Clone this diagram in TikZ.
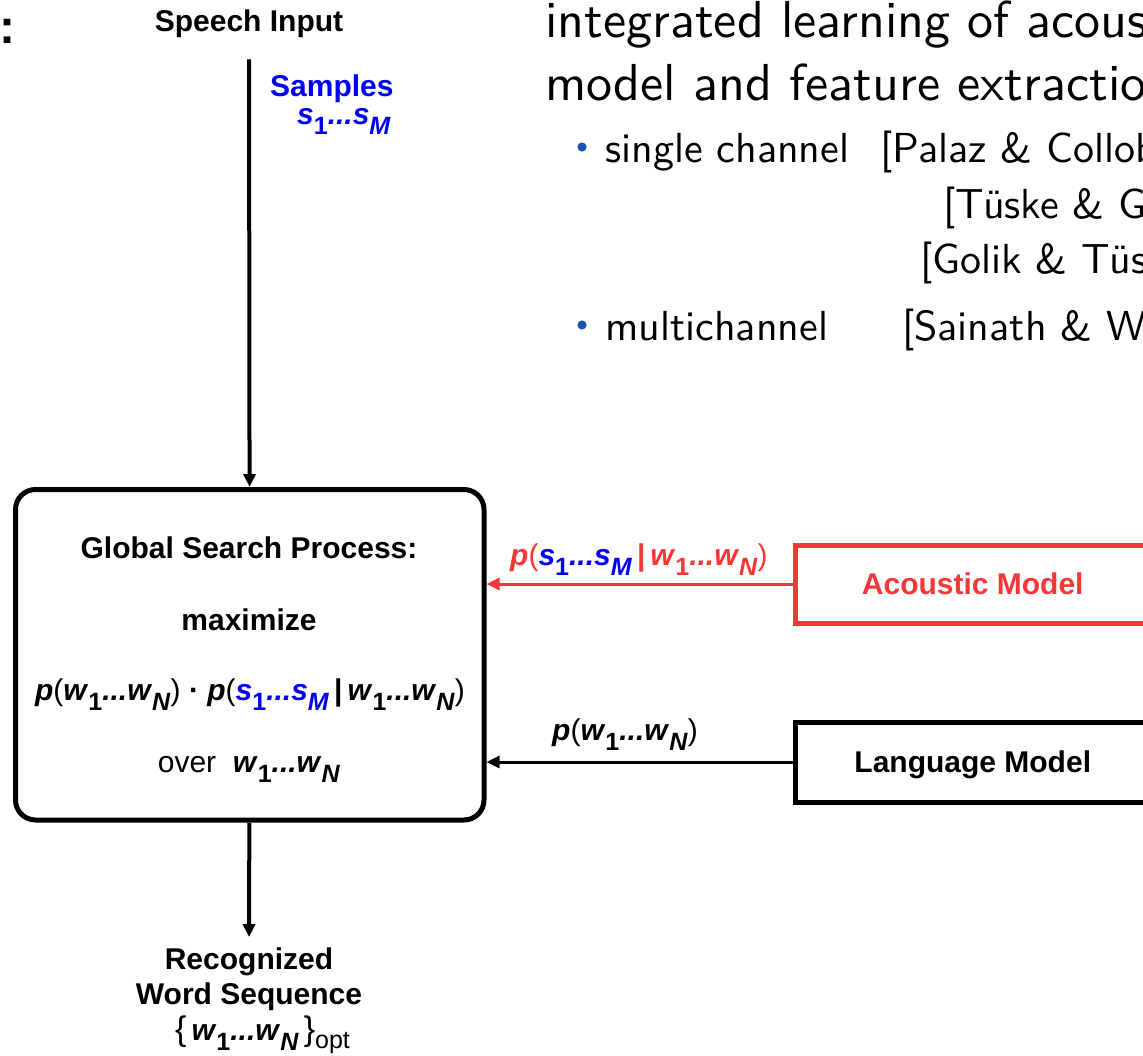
\documentclass[tikz,border=0pt]{standalone}
\usepackage{fontspec}
\setmainfont{Liberation Sans}
\newfontfamily\slidefont{lmsans10-regular.otf}
\usetikzlibrary{arrows.meta}

\definecolor{amred}{RGB}{245,55,55}
\definecolor{smpblue}{RGB}{0,0,245}
\definecolor{bulblue}{RGB}{25,85,170}

% lowered subscript and the symbol sequences
\newcommand\lsub[1]{\raisebox{-10pt}{\fontsize{25}{25}\selectfont #1}}
\newcommand\wseq{\textit{w}\lsub{1}\textit{...w}\lsub{\textit{N}}}
\newcommand\sseq{\textit{s}\lsub{1}\textit{...s}\lsub{\textit{M}}}
\newcommand\lpar{{\mdseries(}}
\newcommand\rpar{{\mdseries)}}

\tikzset{
  x=1pt, y=-1pt,
  lbl/.style={inner sep=0pt, anchor=base, font=\fontsize{30}{36}\selectfont\bfseries},
  lblw/.style={lbl, anchor=base west},
  slide/.style={inner sep=0pt, anchor=base west, font=\slidefont\fontsize{52}{62}\selectfont},
  slidesm/.style={inner sep=0pt, anchor=base west, font=\slidefont\fontsize{42}{50}\selectfont},
  arr/.style={-{Triangle[length=13pt,width=12pt]}},
  modelbox/.style={draw, line width=5pt, minimum width=354.5pt, inner sep=0pt,
    text depth=0pt, font=\fontsize{30}{36}\selectfont\bfseries},
}

\begin{document}
\begin{tikzpicture}
\useasboundingbox (0,0) rectangle (1143,1055);
\clip (0,0) rectangle (1143,1055);

% slide text on the right
\node[inner sep=0pt, anchor=base, font=\fontsize{48}{58}\selectfont\bfseries] (colon) at (7.5,43.5) {:};
\node[slide] (t1) at (545,37) {integrated learning of acoustic};
\node[slide] (t2) at (545,100) {model and feature extraction};
\fill[bulblue] (582,147) circle (4.6pt);
\node[slidesm] (b1) at (605,162) {single channel};
\node[slidesm] (r1) at (880,162) {[Palaz \& Collobert};
\node[slidesm] (r2) at (943,218) {[T\"uske \& Golik};
\node[slidesm] (r3) at (920,273) {[Golik \& T\"uske};
\fill[bulblue] (582,325) circle (4.6pt);
\node[slidesm] (b2) at (605,340) {multichannel};
\node[slidesm] (r4) at (902,340) {[Sainath \& Weiss};

% input
\node[lbl] (speech) at (249,31) {Speech Input};
\node[lblw, text=smpblue] (samples) at (270,96) {Samples};
\node[lblw, text=smpblue] (sseq) at (297,124) {\sseq};

% search process
\node[draw, rounded corners=20pt, line width=5pt, minimum width=468.5pt,
      minimum height=330.5pt, inner sep=0pt] (gsp) at (249.75,654.75) {};
\node[lbl] (g1) at (249,558.5) {Global Search Process:};
\node[lbl] (g2) at (249,630) {maximize};
\node[lbl] (g3) at (250,700) {\textit{p}\lpar\wseq\rpar\ ·\ \textit{p}\lpar\textcolor{smpblue}{\sseq}\,|\,\wseq\rpar};
\node[lbl] (g4) at (249,772) {{\mdseries over}\ \ \wseq};

% knowledge sources
\node[modelbox, draw=amred, text=amred, minimum height=78pt] (am) at (972.75,584) {Acoustic Model};
\node[modelbox, minimum height=80pt] (lm) at (972.75,762) {Language Model};
\node[lblw, text=amred] (amlbl) at (510,565) {\textit{p}\lpar\textcolor{smpblue}{\sseq}\,|\,\wseq\rpar};
\node[lblw] (lmlbl) at (552,740) {\textit{p}\lpar\wseq\rpar};

% output
\node[lbl] (rec1) at (249,969) {Recognized};
\node[lbl] (rec2) at (249,1004) {Word Sequence};
\node[lblw] (rec3) at (175,1040) {{\mdseries\fontsize{34}{34}\selectfont\{}\,\wseq\,{\mdseries\fontsize{34}{34}\selectfont\}}\raisebox{-8pt}{\fontsize{25}{25}\selectfont\mdseries opt}};

% connectors
\draw[arr, line width=4pt, shorten <=22pt] (speech) -- (gsp);
\draw[arr, line width=4pt, shorten >=10pt] (gsp) -- (rec1);
\draw[arr, line width=3pt, amred] (am.west) -- (am.west -| gsp.east);
\draw[arr, line width=3pt] (lm.west) -- (lm.west -| gsp.east);
\end{tikzpicture}
\end{document}
